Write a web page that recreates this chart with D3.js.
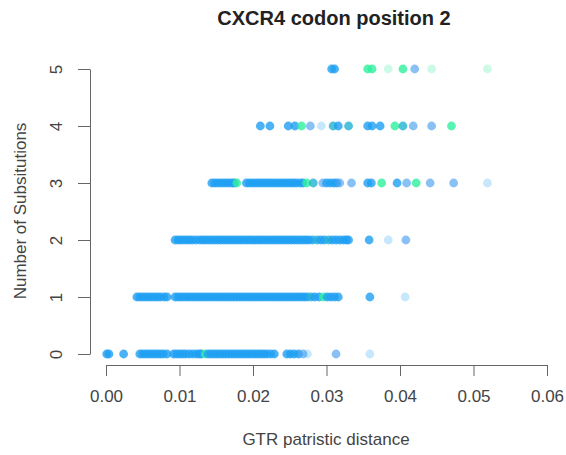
<!DOCTYPE html>
<html>
<head>
<meta charset="utf-8">
<script src="https://cdn.jsdelivr.net/npm/d3@7"></script>
<style>
  html, body { margin: 0; padding: 0; background: #fff; }
  svg { display: block; font-family: "Liberation Sans", Arial, sans-serif; }
</style>
</head>
<body>
<svg id="chart" width="566" height="455"></svg>
<script>
// Patristic distance (x) for each site, grouped by number of substitutions.
// Each entry: [distance, kind]; kind picks the point colour/opacity.
const subs0 = [
  [0.0001,"b"],[0.0004,"b"],[0.0024,"b"],
  [0.0046,"b"],[0.0050,"b"],[0.0054,"b"],[0.0058,"b"],[0.0062,"b"],[0.0066,"b"],[0.0070,"b"],[0.0074,"b"],[0.0078,"b"],[0.0083,"b"],
  [0.0092,"b"],[0.0096,"b"],[0.0100,"b"],[0.0104,"b"],[0.0108,"b"],[0.0113,"b"],[0.0118,"b"],[0.0123,"b"],[0.0127,"b"],[0.0130,"b"],
  [0.0135,"g"],
  [0.0139,"b"],[0.0143,"b"],[0.0147,"b"],[0.0151,"b"],[0.0155,"b"],[0.0159,"b"],[0.0163,"b"],[0.0167,"b"],[0.0171,"b"],[0.0175,"b"],
  [0.0179,"b"],[0.0183,"b"],[0.0187,"b"],[0.0191,"b"],[0.0195,"b"],[0.0199,"b"],[0.0203,"b"],[0.0207,"b"],[0.0211,"b"],[0.0215,"b"],
  [0.0219,"b"],[0.0224,"b"],[0.0229,"b"],
  [0.0246,"b"],[0.0251,"b"],[0.0256,"b"],[0.0262,"b"],[0.0268,"m"],[0.0274,"p"],
  [0.0313,"m"],[0.0359,"p"]
];
const subs1 = [
  [0.0042,"b"],[0.0046,"b"],[0.0050,"b"],[0.0054,"b"],[0.0058,"b"],[0.0062,"b"],[0.0066,"b"],[0.0070,"b"],[0.0074,"b"],[0.0079,"b"],[0.0083,"b"],
  [0.0094,"b"],[0.0098,"b"],[0.0102,"b"],[0.0106,"b"],[0.0110,"b"],[0.0114,"b"],[0.0118,"b"],[0.0122,"b"],[0.0126,"b"],[0.0130,"b"],
  [0.0134,"b"],[0.0138,"b"],[0.0142,"b"],[0.0146,"b"],[0.0150,"b"],[0.0154,"b"],[0.0158,"b"],[0.0162,"b"],[0.0166,"b"],[0.0170,"b"],
  [0.0174,"b"],[0.0178,"b"],[0.0182,"b"],[0.0186,"b"],[0.0190,"b"],[0.0194,"b"],[0.0198,"b"],[0.0202,"b"],[0.0206,"b"],[0.0210,"b"],
  [0.0214,"b"],[0.0218,"b"],[0.0222,"b"],[0.0226,"b"],[0.0230,"b"],[0.0234,"b"],[0.0238,"b"],[0.0242,"b"],[0.0246,"b"],[0.0250,"b"],
  [0.0254,"b"],[0.0258,"b"],[0.0262,"b"],[0.0266,"b"],[0.0270,"b"],[0.0274,"b"],[0.0279,"t"],[0.0284,"b"],[0.0290,"b"],
  [0.0296,"g"],[0.0301,"b"],[0.0306,"b"],[0.0311,"b"],[0.0316,"b"],
  [0.0359,"b"],[0.0407,"p"]
];
const subs2 = [
  [0.0094,"b"],[0.0098,"b"],[0.0102,"b"],[0.0106,"b"],[0.0110,"b"],[0.0114,"b"],[0.0118,"b"],[0.0123,"b"],[0.0128,"b"],[0.0132,"b"],
  [0.0136,"b"],[0.0140,"b"],[0.0144,"b"],[0.0148,"b"],[0.0152,"b"],[0.0156,"b"],[0.0160,"b"],[0.0164,"b"],[0.0168,"b"],[0.0172,"b"],
  [0.0176,"b"],[0.0180,"b"],[0.0184,"b"],[0.0188,"b"],[0.0192,"b"],[0.0196,"b"],[0.0200,"b"],[0.0204,"b"],[0.0208,"b"],[0.0212,"b"],
  [0.0216,"b"],[0.0220,"b"],[0.0224,"b"],[0.0228,"b"],[0.0232,"b"],[0.0236,"b"],[0.0240,"b"],[0.0244,"b"],[0.0248,"b"],[0.0252,"b"],
  [0.0256,"b"],[0.0260,"b"],[0.0264,"b"],[0.0268,"b"],[0.0272,"b"],[0.0276,"b"],[0.0281,"b"],[0.0287,"t"],[0.0292,"b"],[0.0297,"b"],
  [0.0303,"t"],[0.0308,"b"],[0.0313,"b"],[0.0318,"b"],[0.0323,"b"],[0.0327,"b"],
  [0.0330,"b"],[0.0358,"b"],[0.0384,"p"],[0.0408,"m"]
];
const subs3 = [
  [0.0144,"b"],[0.0148,"b"],[0.0152,"b"],[0.0156,"b"],[0.0160,"b"],[0.0164,"b"],[0.0168,"b"],[0.0172,"b"],[0.0175,"b"],[0.0178,"g"],
  [0.0191,"b"],[0.0195,"b"],[0.0199,"b"],[0.0203,"b"],[0.0207,"b"],[0.0211,"b"],[0.0215,"b"],[0.0219,"b"],[0.0223,"b"],[0.0227,"b"],
  [0.0231,"b"],[0.0235,"b"],[0.0239,"b"],[0.0243,"b"],[0.0247,"b"],[0.0251,"b"],[0.0255,"b"],[0.0259,"b"],[0.0264,"b"],[0.0268,"b"],
  [0.0273,"g"],[0.0282,"t"],
  [0.0295,"m"],[0.0300,"b"],[0.0305,"b"],[0.0310,"b"],[0.0314,"b"],[0.0318,"m"],[0.0334,"m"],
  [0.0356,"b"],[0.0361,"b"],[0.0375,"g"],[0.0396,"b"],[0.0409,"m"],[0.0422,"g"],[0.0441,"m"],[0.0473,"m"],[0.0519,"p"]
];
const subs4 = [
  [0.0210,"b"],[0.0223,"b"],[0.0248,"b"],[0.0257,"b"],[0.0266,"g"],[0.0278,"m"],[0.0293,"p"],[0.0309,"t"],[0.0316,"b"],[0.0330,"t"],
  [0.0356,"b"],[0.0362,"b"],[0.0373,"b"],[0.0393,"g"],[0.0404,"t"],[0.0418,"m"],[0.0443,"m"],[0.0470,"g"]
];
const subs5 = [
  [0.0307,"b"],[0.0311,"b"],[0.0356,"g"],[0.0362,"g"],[0.0384,"q"],[0.0404,"g"],[0.0420,"m"],[0.0443,"q"],[0.0519,"q"]
];

const substitutionRows = [subs0, subs1, subs2, subs3, subs4, subs5];
const xTicks = [0, 0.01, 0.02, 0.03, 0.04, 0.05, 0.06];
const yTicks = [0, 1, 2, 3, 4, 5];
const titleText = "CXCR4 codon position 2";
const xLabel = "GTR patristic distance";
const yLabel = "Number of Subsitutions";

// point styles per kind
const fillFor = { b: "#1e9ff2", g: "#2ef09e", m: "#4b9ff0", t: "#22b2d2", p: "#1e9ff2", q: "#2ef09e" };
const alphaFor = { b: 0.8, g: 0.8, m: 0.65, t: 0.8, p: 0.25, q: 0.25 };

const svg = d3.select("#chart");
const x = d3.scaleLinear().domain([0, 0.06]).range([106, 547]);
const y = d3.scaleLinear().domain([0, 5]).range([354, 69]);

const points = substitutionRows.flatMap((row, n) => row.map(([d, k]) => ({ d, n, k })));

svg.append("g").selectAll("circle")
  .data(points)
  .join("circle")
  .attr("cx", p => x(p.d))
  .attr("cy", p => y(p.n))
  .attr("r", 4.4)
  .attr("fill", p => fillFor[p.k])
  .attr("fill-opacity", p => alphaFor[p.k]);

// x axis
const xAxis = svg.append("g")
  .attr("transform", "translate(0,365)")
  .call(d3.axisBottom(x).tickValues(xTicks).tickFormat(d3.format(".2f")).tickSize(11).tickSizeOuter(0).tickPadding(14));
xAxis.select(".domain").attr("stroke", "#666");
xAxis.selectAll(".tick line").attr("stroke", "#666");
xAxis.selectAll(".tick text").attr("fill", "#444").attr("font-size", 17)
  .attr("font-family", "'Liberation Sans', Arial, sans-serif");

// y axis with rotated labels
const yAxis = svg.append("g")
  .attr("transform", "translate(90,0)")
  .call(d3.axisLeft(y).tickValues(yTicks).tickFormat(d3.format("d")).tickSize(12).tickSizeOuter(0).tickPadding(0));
yAxis.select(".domain").attr("stroke", "#666");
yAxis.selectAll(".tick line").attr("stroke", "#666");
yAxis.selectAll(".tick text")
  .attr("fill", "#444").attr("font-size", 17)
  .attr("font-family", "'Liberation Sans', Arial, sans-serif")
  .attr("x", 0).attr("dy", 0)
  .attr("text-anchor", "middle")
  .attr("transform", "translate(-28,0) rotate(-90)");

// titles
svg.append("text")
  .attr("x", 334).attr("y", 25)
  .attr("text-anchor", "middle")
  .attr("font-weight", "bold").attr("font-size", 20).attr("fill", "#222")
  .text(titleText);

svg.append("text")
  .attr("x", 326).attr("y", 445)
  .attr("text-anchor", "middle")
  .attr("font-size", 17).attr("fill", "#444")
  .text(xLabel);

svg.append("text")
  .attr("transform", "translate(26,211) rotate(-90)")
  .attr("text-anchor", "middle")
  .attr("font-size", 17).attr("fill", "#444")
  .text(yLabel);
</script>
</body>
</html>
